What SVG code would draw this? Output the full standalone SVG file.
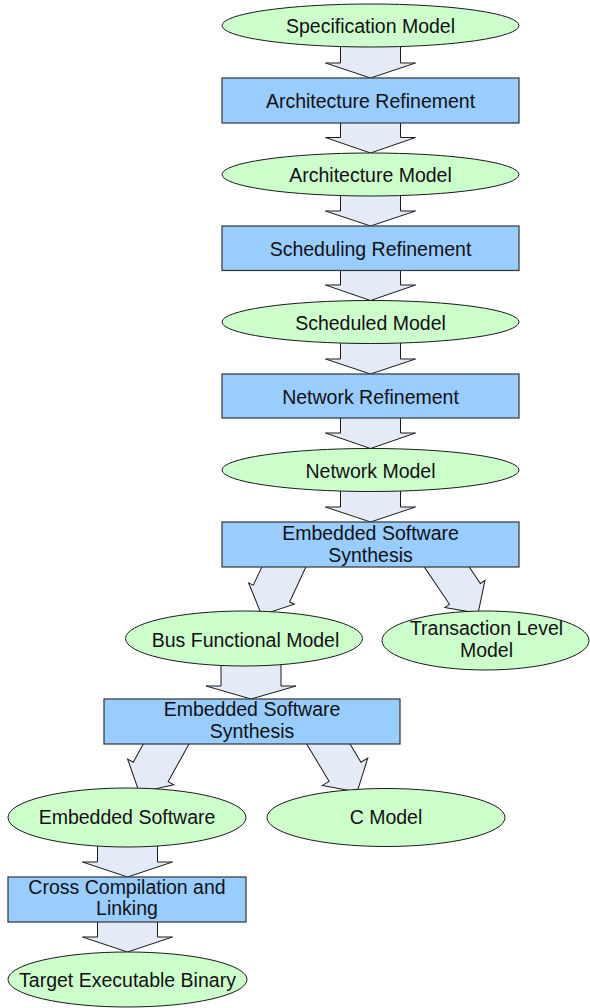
<svg xmlns="http://www.w3.org/2000/svg" width="590" height="1008" viewBox="0 0 590 1008">
  <style>
    .model { fill: #ccffcc; stroke: #1a1a1a; stroke-width: 1; }
    .step { fill: #99ccff; stroke: #333333; stroke-width: 1.2; }
    .flow { fill: #e4eaf6; stroke: #1a1a1a; stroke-width: 1; stroke-linejoin: miter; }
    text { font-family: "Liberation Sans", Arial, sans-serif; font-size: 19.5px; fill: #111111; text-anchor: middle; }
  </style>
  <rect width="590" height="1008" fill="#ffffff"/>

  <!-- block arrows between stages (drawn first, nodes sit on top) -->
  <g id="connectors">
    <path class="flow" d="M340.5,40 L400.5,40 L400.5,63 L415.5,63 L370.5,78 L325.5,63 L340.5,63 Z"/>
    <path class="flow" d="M340.5,120 L400.5,120 L400.5,137.5 L415.5,137.5 L370.5,153 L325.5,137.5 L340.5,137.5 Z"/>
    <path class="flow" d="M340.5,190 L400.5,190 L400.5,211 L415.5,211 L370.5,226 L325.5,211 L340.5,211 Z"/>
    <path class="flow" d="M340.5,268 L400.5,268 L400.5,285 L415.5,285 L370.5,300.5 L325.5,285 L340.5,285 Z"/>
    <path class="flow" d="M340.5,338 L400.5,338 L400.5,359 L415.5,359 L370.5,374 L325.5,359 L340.5,359 Z"/>
    <path class="flow" d="M340.5,416 L400.5,416 L400.5,433 L415.5,433 L370.5,448.5 L325.5,433 L340.5,433 Z"/>
    <path class="flow" d="M340.5,485 L400.5,485 L400.5,507 L415.5,507 L370.5,522 L325.5,507 L340.5,507 Z"/>
    <path class="flow" d="M221,660 L281,660 L281,686 L296,686 L251,699 L206,686 L221,686 Z"/>
    <path class="flow" d="M97.5,840 L157.5,840 L157.5,862 L172.5,862 L127.5,877 L82.5,862 L97.5,862 Z"/>
    <path class="flow" d="M97.5,920 L157.5,920 L157.5,937 L172.5,937 L127.5,952 L82.5,937 L97.5,937 Z"/>
    <!-- diagonal branches -->
    <path class="flow" transform="translate(283.85,567) rotate(25)" d="M-20,-20 L20,-20 L20,29.3 L25.2,29.3 L0,52.8 L-25.2,29.3 L-20,29.3 Z"/>
    <path class="flow" transform="translate(446.8,567) rotate(-34)" d="M-18.65,-20 L18.65,-20 L18.65,32.4 L24.2,32.4 L0,55.9 L-24.2,32.4 L-18.65,32.4 Z"/>
    <path class="flow" transform="translate(166.15,744) rotate(29)" d="M-20,-20 L20,-20 L20,31.9 L26.4,31.9 L0,55.4 L-26.4,31.9 L-20,31.9 Z"/>
    <path class="flow" transform="translate(328.35,744) rotate(-31)" d="M-18.6,-20 L18.6,-20 L18.6,32.4 L26.5,32.4 L0,55.9 L-26.5,32.4 L-18.6,32.4 Z"/>
  </g>

  <g id="spec-model">
    <ellipse class="model" cx="370.5" cy="25.5" rx="148.5" ry="21.5"/>
    <text x="370.5" y="33">Specification Model</text>
  </g>
  <g id="arch-refinement">
    <rect class="step" x="222" y="78" width="297" height="45"/>
    <text x="370.5" y="107.5">Architecture Refinement</text>
  </g>
  <g id="arch-model">
    <ellipse class="model" cx="370.5" cy="174.5" rx="148.5" ry="21.5"/>
    <text x="370.5" y="182">Architecture Model</text>
  </g>
  <g id="sched-refinement">
    <rect class="step" x="222" y="226" width="297" height="44.5"/>
    <text x="370.5" y="255.5">Scheduling Refinement</text>
  </g>
  <g id="sched-model">
    <ellipse class="model" cx="370.5" cy="322" rx="148.5" ry="21.5"/>
    <text x="370.5" y="329.5">Scheduled Model</text>
  </g>
  <g id="net-refinement">
    <rect class="step" x="222" y="374" width="297" height="44"/>
    <text x="370.5" y="403.5">Network Refinement</text>
  </g>
  <g id="net-model">
    <ellipse class="model" cx="370.5" cy="470" rx="148.5" ry="21.5"/>
    <text x="370.5" y="477.5">Network Model</text>
  </g>
  <g id="sw-synthesis-1">
    <rect class="step" x="222" y="522" width="297" height="45"/>
    <text x="370.5" y="539.5">Embedded Software</text>
    <text x="370.5" y="561.5">Synthesis</text>
  </g>
  <g id="bus-functional-model">
    <ellipse class="model" cx="244" cy="638.5" rx="118.5" ry="27.5"/>
    <text x="245.5" y="646.5">Bus Functional Model</text>
  </g>
  <g id="transaction-level-model">
    <ellipse class="model" cx="485.5" cy="640.5" rx="103.5" ry="29.5"/>
    <text x="486.5" y="635">Transaction Level</text>
    <text x="486.5" y="657">Model</text>
  </g>
  <g id="sw-synthesis-2">
    <rect class="step" x="104" y="699" width="296" height="45"/>
    <text x="252" y="716">Embedded Software</text>
    <text x="252" y="738">Synthesis</text>
  </g>
  <g id="embedded-software">
    <ellipse class="model" cx="127" cy="817.5" rx="119" ry="29.5"/>
    <text x="127" y="824">Embedded Software</text>
  </g>
  <g id="c-model">
    <ellipse class="model" cx="386" cy="817.5" rx="119" ry="29"/>
    <text x="386" y="823.5">C Model</text>
  </g>
  <g id="cross-compilation">
    <rect class="step" x="8" y="877" width="238" height="45"/>
    <text x="127" y="893.5">Cross Compilation and</text>
    <text x="127" y="915">Linking</text>
  </g>
  <g id="target-binary">
    <ellipse class="model" cx="127.5" cy="979.5" rx="119.5" ry="27.5"/>
    <text x="127.5" y="987">Target Executable Binary</text>
  </g>
</svg>
